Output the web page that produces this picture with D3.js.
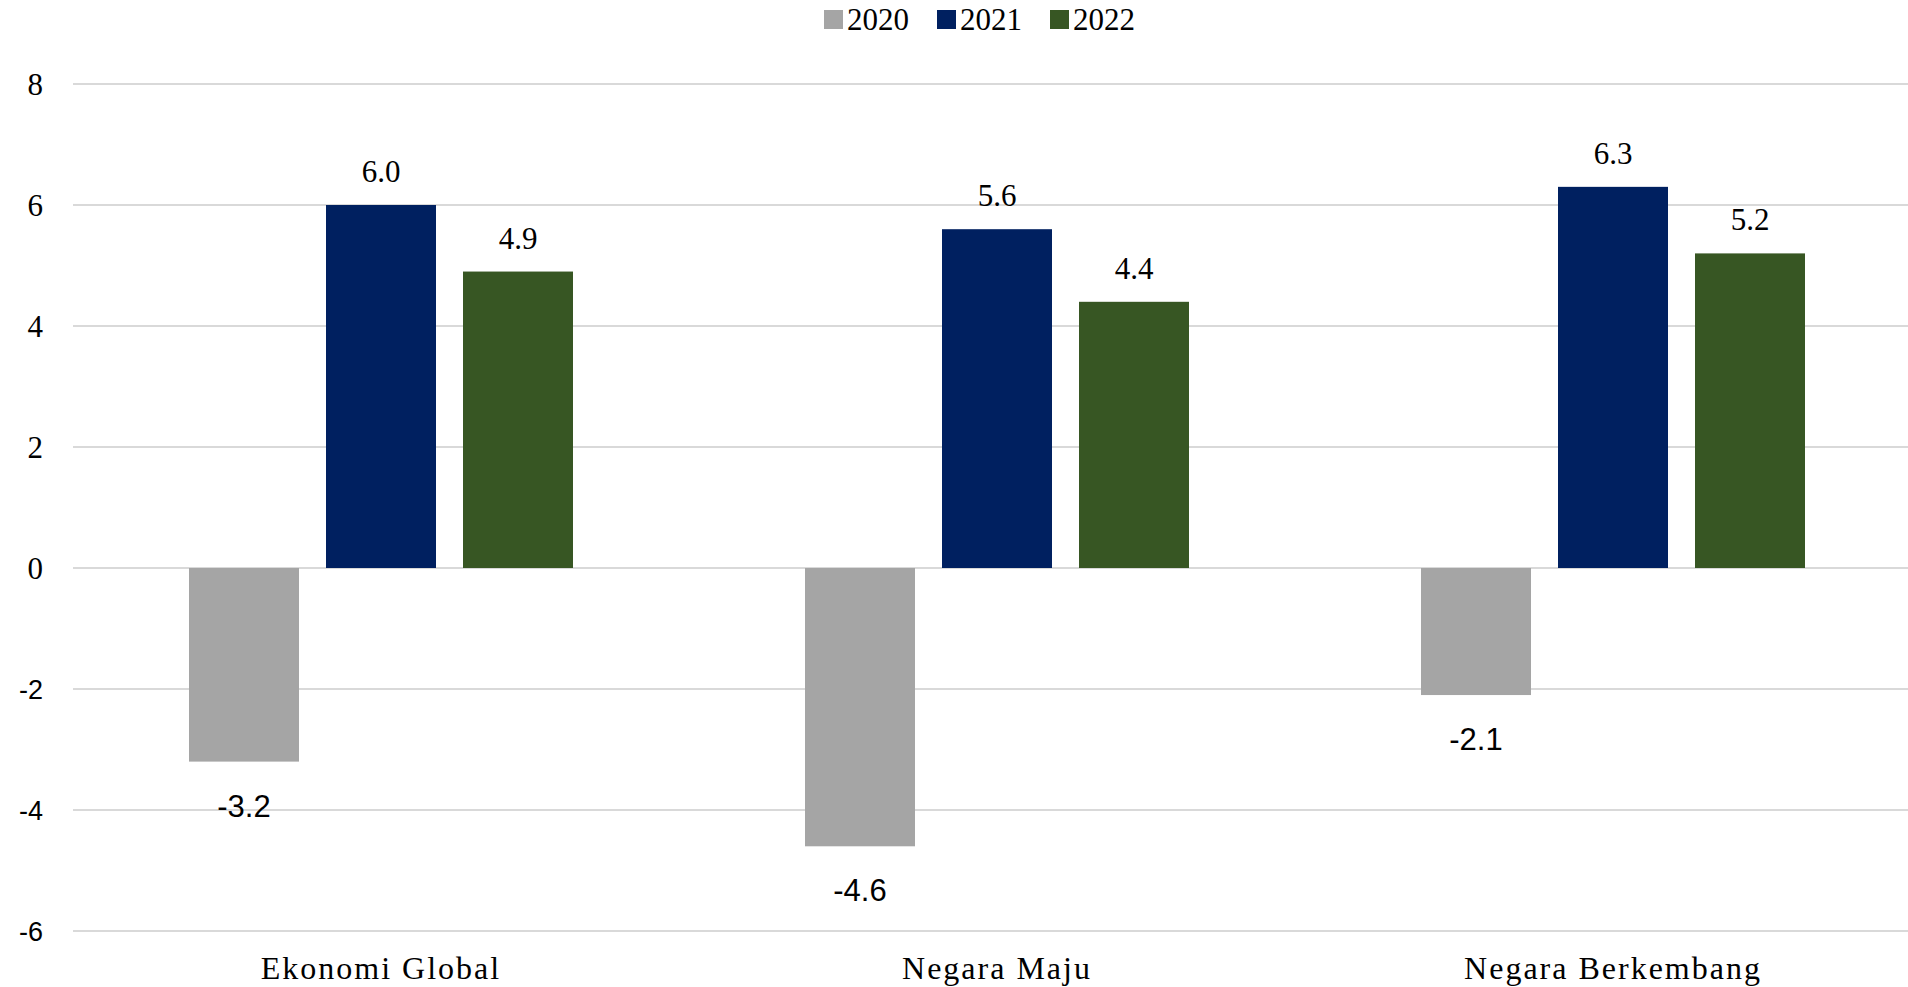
<!DOCTYPE html>
<html>
<head>
<meta charset="utf-8">
<script src="https://cdn.jsdelivr.net/npm/d3@7"></script>
<style>
  body { margin: 0; background: #ffffff; }
  svg { display: block; }
  .serif { font-family: "Liberation Serif", "Times New Roman", serif; }
  .sans { font-family: "Liberation Sans", Arial, sans-serif; }
</style>
</head>
<body>
<svg id="chart" width="1908" height="987"></svg>
<script>
// Pertumbuhan ekonomi (%), per kelompok negara
const categories = ["Ekonomi Global", "Negara Maju", "Negara Berkembang"];
const seriesNames = ["2020", "2021", "2022"];
const values2020 = [-3.2, -4.6, -2.1];
const values2021 = [6.0, 5.6, 6.3];
const values2022 = [4.9, 4.4, 5.2];
const yTicks = [-6, -4, -2, 0, 2, 4, 6, 8];
const seriesColors = ["#a5a5a5", "#002060", "#375623"];

const seriesValues = [values2020, values2021, values2022];
const rows = categories.map((c, i) => ({
  category: c,
  items: seriesNames.map((s, j) => ({ series: s, value: seriesValues[j][i] }))
}));

// Plain hyphen for negative numbers
const locale = d3.formatLocale({
  decimal: ".", thousands: ",", grouping: [3], currency: ["", ""], minus: "-"
});
const fmtTick = locale.format("d");
const fmtValue = locale.format(".1f");

const svg = d3.select("#chart");
const width = 1908;

const gridLeft = 73;
const y = d3.scaleLinear().domain([-6, 8]).range([931, 84]);

const x0 = d3.scaleBand().domain(categories).range([73, 1921]).padding(0);
const groupWidth = 384;
const x1 = d3.scaleBand().domain(seriesNames)
  .range([0, groupWidth]).paddingInner(27 / 137).paddingOuter(0);
const groupOffset = (x0.bandwidth() - groupWidth) / 2;
const color = d3.scaleOrdinal().domain(seriesNames).range(seriesColors);

// Horizontal gridlines
svg.append("g").selectAll("line").data(yTicks).join("line")
  .attr("x1", gridLeft).attr("x2", width)
  .attr("y1", d => y(d)).attr("y2", d => y(d))
  .attr("stroke", "#d9d9d9").attr("stroke-width", 2);

// Y-axis tick labels: positives in serif, negatives in sans
svg.append("g").selectAll("text").data(yTicks).join("text")
  .attr("class", d => d < 0 ? "sans" : "serif")
  .attr("x", 43)
  .attr("y", d => y(d))
  .attr("dy", d => d < 0 ? "0.36em" : "0.34em")
  .attr("text-anchor", "end")
  .style("font-size", d => (d < 0 ? 27 : 31) + "px")
  .attr("fill", "#000")
  .text(d => fmtTick(d));

// Bars
const groups = svg.append("g").selectAll("g").data(rows).join("g")
  .attr("transform", d => `translate(${x0(d.category) + groupOffset},0)`);

groups.selectAll("rect").data(d => d.items).join("rect")
  .attr("x", d => x1(d.series))
  .attr("width", x1.bandwidth())
  .attr("y", d => y(Math.max(0, d.value)))
  .attr("height", d => Math.abs(y(d.value) - y(0)))
  .attr("fill", d => color(d.series));

// Value labels
groups.selectAll("text").data(d => d.items).join("text")
  .attr("class", d => d.value < 0 ? "sans" : "serif")
  .attr("x", d => x1(d.series) + x1.bandwidth() / 2)
  .attr("y", d => d.value >= 0 ? y(d.value) - 23 : y(d.value) + 55)
  .attr("text-anchor", "middle")
  .style("font-size", "31px")
  .attr("fill", "#000")
  .text(d => fmtValue(d.value));

// Category labels
svg.append("g").selectAll("text").data(categories).join("text")
  .attr("class", "serif")
  .attr("x", d => x0(d) + x0.bandwidth() / 2)
  .attr("y", 979)
  .attr("text-anchor", "middle")
  .style("font-size", "32px")
  .style("letter-spacing", "2px")
  .attr("fill", "#000")
  .text(d => d);

// Legend
const legend = svg.append("g").attr("transform", "translate(824,0)");
const legendItems = legend.selectAll("g").data(seriesNames).join("g")
  .attr("transform", (d, i) => `translate(${i * 113},0)`);
legendItems.append("rect")
  .attr("x", 0).attr("y", 10).attr("width", 19).attr("height", 19)
  .attr("fill", d => color(d));
legendItems.append("text")
  .attr("class", "serif")
  .attr("x", 23).attr("y", 30)
  .style("font-size", "31px")
  .attr("fill", "#000")
  .text(d => d);
</script>
</body>
</html>
